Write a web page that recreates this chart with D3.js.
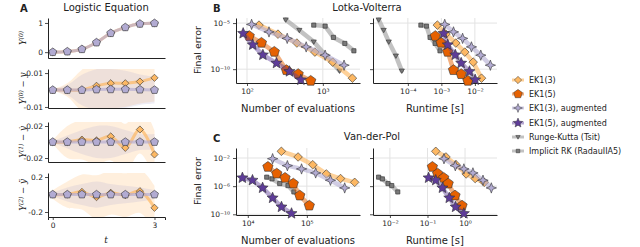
<!DOCTYPE html>
<html>
<head>
<meta charset="utf-8">
<script src="https://cdn.jsdelivr.net/npm/d3@7"></script>
<style>
  body { margin: 0; background: #fff; }
  svg { display: block; font-family: "DejaVu Sans", sans-serif; }
</style>
</head>
<body>
<svg id="chart" width="640" height="247"></svg>
<script>
// ---- Panel A: logistic equation, 8 grid points
const tGrid = [0, 0.43, 0.86, 1.29, 1.71, 2.14, 2.57, 3.0];
const logisticMean = [0.0, 0.02, 0.1, 0.33, 0.65, 0.85, 0.97, 0.99];
const errY0Plain = [0, 0, 0, 0.0025, 0.004, 0.004, 0.005, 0.0072];
const errY0Aug = [0, 0, 0, 0.0003, 0.0004, 0.0004, 0.0002, 0];
const errY1Plain = [0, 0, 0.003, 0.002, 0.007, -0.0073, 0.0156, -0.0156];
const errY1Aug = [0, 0, 0, 0, 0, 0, 0, 0];
const errY2Plain = [0, 0, 0.03, -0.03, 0.02, -0.008, 0.038, -0.152];
const errY2Aug = [0, 0, 0, 0, 0, 0, 0, 0];
const stdY0Plain = [0.0005, 0.004, 0.012, 0.015, 0.015, 0.014, 0.013, 0.014];
const stdY0Aug = [0.0005, 0.003, 0.009, 0.012, 0.012, 0.011, 0.009, 0.008];
const stdY1Plain = [0.002, 0.02, 0.025, 0.03, 0.03, 0.03, 0.03, 0.03];
const stdY1Aug = [0.001, 0.008, 0.015, 0.02, 0.02, 0.015, 0.01, 0.01];
const stdY2Plain = [0.05, 0.15, 0.2, 0.25, 0.25, 0.25, 0.25, 0.25];
const stdY2Aug = [0.02, 0.08, 0.12, 0.15, 0.12, 0.1, 0.08, 0.05];

// ---- Panel B: Lotka-Volterra work-precision
const lvEk13Evals = [144, 256, 455, 785, 1349, 2455];
const lvEk13Time = [7.6e-4, 1.35e-3, 2.7e-3, 5.0e-3, 8.9e-3, 1.58e-2];
const lvEk13Err = [6.0e-6, 6.3e-7, 6.8e-8, 7.1e-9, 5.8e-10, 1.05e-11];
const lvEk15Evals = [107, 155, 229, 331, 473, 692];
const lvEk15Time = [6.6e-4, 9.8e-4, 1.55e-3, 2.3e-3, 3.9e-3, 6.2e-3];
const lvEk15Err = [3.9e-7, 7.2e-8, 7.6e-9, 7.8e-11, 2.9e-11, 5.4e-12];
const lvEk13aEvals = [115, 195, 339, 603, 1072, 1905];
const lvEk13aTime = [1.26e-3, 2.3e-3, 4.3e-3, 7.9e-3, 1.5e-2, 2.9e-2];
const lvEk13aErr = [7.2e-6, 1.1e-6, 2.2e-7, 2.6e-8, 3.3e-9, 2.7e-10];
const lvEk15aEvals = [89, 119, 162, 245, 363, 513];
const lvEk15aTime = [1.17e-3, 1.55e-3, 2.6e-3, 3.9e-3, 6.9e-3, 1.02e-2];
const lvEk15aErr = [7.6e-7, 4.4e-8, 3.5e-9, 4.5e-10, 5.6e-11, 6.9e-12];
const lvRkEvals = [324, 490, 759, 1096, 1660];
const lvRkTime = [1.35e-5, 1.9e-5, 2.7e-5, 4.4e-5, 6.6e-5];
const lvRkErr = [2.3e-5, 1.7e-6, 9.3e-8, 2.8e-9, 6.6e-11];
const lvIrkEvals = [759, 1072, 1380, 1950, 2570];
const lvIrkTime = [2.45e-4, 3.6e-4, 4.6e-4, 6.5e-4, 9.1e-4];
const lvIrkErr = [6.0e-6, 4.7e-6, 2.8e-7, 6.2e-8, 9.8e-9];

// ---- Panel C: Van-der-Pol work-precision
const vdpEk13Evals = [37000, 71000, 126000, 214000, 372000, 646000];
const vdpEk13Time = [0.166, 0.31, 0.575, 1.07, 1.86, 3.24];
const vdpEk13Err = [8.9e-2, 1.4e-2, 1.1e-3, 5.4e-5, 1.2e-5, 3.5e-6];
const vdpEk15Evals = [21900, 30900, 42700, 58900, 75900, 110000];
const vdpEk15Time = [0.135, 0.186, 0.27, 0.355, 0.54, 0.83];
const vdpEk15Err = [5.4e-4, 6.0e-5, 1.5e-5, 2.3e-6, 4.6e-8, 1.7e-9];
const vdpEk13aEvals = [26300, 46800, 81300, 141000, 251000, 437000];
const vdpEk13aTime = [0.275, 0.55, 0.93, 1.62, 3.0, 5.0];
const vdpEk13aErr = [7.9e-3, 8.1e-4, 2.8e-4, 7.6e-5, 6.9e-6, 5.6e-7];
const vdpEk15aEvals = [8100, 12000, 17800, 26300, 37200, 55000];
const vdpEk15aTime = [0.107, 0.166, 0.25, 0.38, 0.56, 0.93];
const vdpEk15aErr = [1.5e-5, 6.9e-6, 5.6e-7, 2.1e-8, 1.1e-9, 1.3e-10];
const vdpIrkEvals = [20900, 25700, 34700, 47900, 60300];
const vdpIrkTime = [0.005, 0.0063, 0.0089, 0.0112, 0.0162];
const vdpIrkErr = [1.9e-5, 1.07e-5, 2.3e-6, 1.2e-6, 1.5e-7];

const legendNames = ["EK1(3)", "EK1(5)", "EK1(3), augmented", "EK1(5), augmented",
  "Runge-Kutta (Tsit)", "Implicit RK (RadauIIA5)"];

// ---- marker shapes
const diamond = s => `M0,${-s}L${s},0L0,${s}L${-s},0Z`;
const square = s => `M${-s},${-s}H${s}V${s}H${-s}Z`;
const triDown = s => `M${-s},${-s * 0.7}L${s},${-s * 0.7}L0,${s}Z`;
function starPath(n, r, ratio, rot) {
  const pts = [];
  for (let k = 0; k < 2 * n; k++) {
    const a = rot + k * Math.PI / n, rr = k % 2 ? r * ratio : r;
    pts.push([rr * Math.cos(a), rr * Math.sin(a)]);
  }
  return "M" + pts.map(p => p.map(v => v.toFixed(2)).join(",")).join("L") + "Z";
}
function pentagon(r) {
  const pts = d3.range(5).map(k => {
    const a = -Math.PI / 2 + k * 2 * Math.PI / 5;
    return [r * Math.cos(a), r * Math.sin(a)];
  });
  return "M" + pts.map(p => p.map(v => v.toFixed(2)).join(",")).join("L") + "Z";
}

const styles = {
  ek13: { fill: "#fdb863", line: "#fdb863", lo: 0.65, shape: diamond(4.3) },
  ek15: { fill: "#e66101", line: "#e66101", lo: 0.5, shape: pentagon(5.4) },
  ek13a: { fill: "#b2abd2", line: "#b2abd2", lo: 0.6, shape: starPath(4, 5.2, 0.38, -Math.PI / 2) },
  ek15a: { fill: "#5e3c99", line: "#5e3c99", lo: 0.45, shape: starPath(5, 5.8, 0.45, -Math.PI / 2) },
  rk: { fill: "#7a7a7a", line: "#a8a8a8", lo: 0.7, shape: triDown(2.6) },
  irk: { fill: "#7a7a7a", line: "#a8a8a8", lo: 0.7, shape: square(2.1) }
};
const legendKeys = ["ek13", "ek15", "ek13a", "ek15a", "rk", "irk"];

const svg = d3.select("#chart");
const ink = "#222";
const sup = { "-": "\u207b", "0": "\u2070", "1": "\u00b9", "2": "\u00b2", "3": "\u00b3", "4": "\u2074",
  "5": "\u2075", "6": "\u2076", "7": "\u2077", "8": "\u2078", "9": "\u2079" };
const fmtPow = v => "10" + String(Math.round(Math.log10(v))).split("").map(c => sup[c]).join("");

function styleAxis(sel, fs) {
  sel.selectAll(".domain").attr("stroke", ink).attr("stroke-width", 1);
  sel.selectAll(".tick line").attr("stroke", ink).attr("stroke-width", 0.8);
  sel.selectAll(".tick text").attr("fill", ink).attr("font-size", fs)
    .attr("font-family", "DejaVu Sans, sans-serif");
}

// log-log axes with grid
function logPanel(x0, x1, y0, y1, xDom, yDom, xTicks, yTicks, yLabels) {
  const x = d3.scaleLog().domain(xDom).range([x0, x1]);
  const y = d3.scaleLog().domain(yDom).range([y1, y0]);
  const g = svg.append("g");
  g.append("g").selectAll("line").data(xTicks).join("line")
    .attr("x1", d => x(d)).attr("x2", d => x(d)).attr("y1", y0).attr("y2", y1)
    .attr("stroke", "#e3e3e3").attr("stroke-width", 1);
  g.append("g").selectAll("line").data(yTicks).join("line")
    .attr("y1", d => y(d)).attr("y2", d => y(d)).attr("x1", x0).attr("x2", x1)
    .attr("stroke", "#e3e3e3").attr("stroke-width", 1);
  g.append("g").attr("transform", `translate(0,${y1})`)
    .call(d3.axisBottom(x).tickValues(xTicks).tickFormat(fmtPow).tickSize(3).tickSizeOuter(0).tickPadding(3))
    .call(s => styleAxis(s, "7.5px"));
  g.append("g").attr("transform", `translate(${x0},0)`)
    .call(d3.axisLeft(y).tickValues(yTicks).tickFormat(yLabels ? fmtPow : "").tickSize(3).tickSizeOuter(0).tickPadding(3))
    .call(s => styleAxis(s, "7.5px"));
  return { g, x, y };
}

function drawSeries(p, xs, ys, st) {
  const pts = xs.map((v, i) => [p.x(v), p.y(ys[i])]);
  p.g.append("path").attr("d", d3.line()(pts)).attr("fill", "none")
    .attr("stroke", st.line).attr("stroke-opacity", st.lo).attr("stroke-width", 4.5)
    .attr("stroke-linejoin", "round").attr("stroke-linecap", "round");
  p.g.append("g").selectAll("path").data(pts).join("path")
    .attr("transform", d => `translate(${d[0]},${d[1]})`)
    .attr("d", st.shape).attr("fill", st.fill).attr("stroke", "#333").attr("stroke-width", 0.6);
}

function label(x, y, txt, opts = {}) {
  const t = svg.append("text").attr("x", x).attr("y", y).text(txt)
    .attr("font-size", opts.size || "10px").attr("fill", ink)
    .attr("text-anchor", opts.anchor || "middle");
  if (opts.bold) t.attr("font-weight", "bold");
  if (opts.rotate) t.attr("transform", `rotate(-90,${x},${y})`);
  return t;
}

// ---- Panel B
const lvEvals = logPanel(236, 360, 18, 83, [Math.pow(10, 1.855), Math.pow(10, 3.49)],
  [Math.pow(10, -11.5), Math.pow(10, -4.45)], [1e2, 1e3], [1e-5, 1e-10], true);
const lvTime = logPanel(373, 497, 18, 83, [Math.pow(10, -5.04), Math.pow(10, -1.34)],
  [Math.pow(10, -11.5), Math.pow(10, -4.45)], [1e-4, 1e-3, 1e-2], [1e-5, 1e-10], false);
drawSeries(lvEvals, lvRkEvals, lvRkErr, styles.rk);
drawSeries(lvEvals, lvIrkEvals, lvIrkErr, styles.irk);
drawSeries(lvEvals, lvEk13Evals, lvEk13Err, styles.ek13);
drawSeries(lvEvals, lvEk15Evals, lvEk15Err, styles.ek15);
drawSeries(lvEvals, lvEk13aEvals, lvEk13aErr, styles.ek13a);
drawSeries(lvEvals, lvEk15aEvals, lvEk15aErr, styles.ek15a);
drawSeries(lvTime, lvRkTime, lvRkErr, styles.rk);
drawSeries(lvTime, lvIrkTime, lvIrkErr, styles.irk);
drawSeries(lvTime, lvEk13Time, lvEk13Err, styles.ek13);
drawSeries(lvTime, lvEk15Time, lvEk15Err, styles.ek15);
drawSeries(lvTime, lvEk13aTime, lvEk13aErr, styles.ek13a);
drawSeries(lvTime, lvEk15aTime, lvEk15aErr, styles.ek15a);

// ---- Panel C
const vdpEvals = logPanel(236, 360, 148, 215, [Math.pow(10, 3.8), Math.pow(10, 5.9)],
  [Math.pow(10, -10.1), Math.pow(10, -0.58)], [1e4, 1e5], [1e-2, 1e-6, 1e-10], true);
const vdpTime = logPanel(373, 497, 148, 215, [Math.pow(10, -2.45), Math.pow(10, 0.85)],
  [Math.pow(10, -10.1), Math.pow(10, -0.58)], [1e-2, 1e-1, 1e0], [1e-2, 1e-6, 1e-10], false);
drawSeries(vdpEvals, vdpIrkEvals, vdpIrkErr, styles.irk);
drawSeries(vdpEvals, vdpEk13Evals, vdpEk13Err, styles.ek13);
drawSeries(vdpEvals, vdpEk15Evals, vdpEk15Err, styles.ek15);
drawSeries(vdpEvals, vdpEk13aEvals, vdpEk13aErr, styles.ek13a);
drawSeries(vdpEvals, vdpEk15aEvals, vdpEk15aErr, styles.ek15a);
drawSeries(vdpTime, vdpIrkTime, vdpIrkErr, styles.irk);
drawSeries(vdpTime, vdpEk13Time, vdpEk13Err, styles.ek13);
drawSeries(vdpTime, vdpEk15Time, vdpEk15Err, styles.ek15);
drawSeries(vdpTime, vdpEk13aTime, vdpEk13aErr, styles.ek13a);
drawSeries(vdpTime, vdpEk15aTime, vdpEk15aErr, styles.ek15a);

label(213, 12, "B", { bold: true, anchor: "start" });
label(213, 142, "C", { bold: true, anchor: "start" });
label(367, 11, "Lotka-Volterra");
label(372, 140, "Van-der-Pol");
label(298, 112, "Number of evaluations");
label(435, 112, "Runtime [s]");
label(298, 244, "Number of evaluations");
label(435, 244, "Runtime [s]");
label(201, 50, "Final error", { rotate: true, size: "9.5px" });
label(201, 181, "Final error", { rotate: true, size: "9.5px" });

// ---- Legend
const legY = [80, 94, 108, 123, 137, 151];
legendKeys.forEach((k, i) => {
  const st = styles[k];
  svg.append("line").attr("x1", 512).attr("x2", 524).attr("y1", legY[i]).attr("y2", legY[i])
    .attr("stroke", st.line).attr("stroke-opacity", st.lo).attr("stroke-width", 3);
  svg.append("path").attr("transform", `translate(518,${legY[i]}) scale(0.85)`).attr("d", st.shape)
    .attr("fill", st.fill).attr("stroke", "#333").attr("stroke-width", 0.6);
  label(529, legY[i] + 3, legendNames[i], { anchor: "start", size: "8px" });
});

// ---- Panel A
const xA = d3.scaleLinear().domain([-0.14, 3.31]).range([48, 165]);
const orange = "#fdb863", purple = "#b2abd2";
const subplots = [
  { y0: 18, y1: 58, dom: [-0.2, 1.17], ticks: [0, 1], fmt: d3.format("d"),
    plain: logisticMean, aug: logisticMean, sp: null, sa: null, sub: "(0)", tail: "" },
  { y0: 69, y1: 108, dom: [-0.0106, 0.0124], ticks: [-0.01, 0.01], fmt: d => d.toFixed(2),
    plain: errY0Plain, aug: errY0Aug, sp: stdY0Plain, sa: stdY0Aug, sub: "(0)", tail: " \u2212 y" },
  { y0: 122, y1: 162, dom: [-0.025, 0.025], ticks: [-0.02, 0.02], fmt: d => d.toFixed(2),
    plain: errY1Plain, aug: errY1Aug, sp: stdY1Plain, sa: stdY1Aug, sub: "(1)", tail: " \u2212 \u1e8f" },
  { y0: 173, y1: 217, dom: [-0.257, 0.246], ticks: [-0.2, 0.2], fmt: d => d.toFixed(1),
    plain: errY2Plain, aug: errY2Aug, sp: stdY2Plain, sa: stdY2Aug, sub: "(2)", tail: " \u2212 \u00ff" }
];

subplots.forEach((s, i) => {
  const y = d3.scaleLinear().domain(s.dom).range([s.y1, s.y0]);
  const g = svg.append("g");
  const clipId = "clipA" + i;
  svg.append("clipPath").attr("id", clipId).append("rect")
    .attr("x", 48).attr("y", s.y0).attr("width", 117).attr("height", s.y1 - s.y0);
  const inner = g.append("g").attr("clip-path", `url(#${clipId})`);
  const idx = d3.range(tGrid.length);
  if (s.sp) {
    const area = (m, sd) => d3.area().curve(d3.curveCatmullRom)
      .x(j => xA(tGrid[j])).y0(j => y(m[j] - sd[j])).y1(j => y(m[j] + sd[j]));
    inner.append("path").attr("d", area(s.plain, s.sp)(idx)).attr("fill", orange).attr("fill-opacity", 0.22);
    inner.append("path").attr("d", area(s.aug, s.sa)(idx)).attr("fill", purple).attr("fill-opacity", 0.22);
  }
  const line = m => d3.line().curve(d3.curveCatmullRom).x(j => xA(tGrid[j])).y(j => y(m[j]));
  inner.append("path").attr("d", line(s.plain)(idx)).attr("fill", "none")
    .attr("stroke", orange).attr("stroke-opacity", 0.7).attr("stroke-width", 3);
  inner.append("path").attr("d", line(s.aug)(idx)).attr("fill", "none")
    .attr("stroke", purple).attr("stroke-opacity", 0.65).attr("stroke-width", 3);
  g.append("g").selectAll("path").data(idx).join("path")
    .attr("transform", j => `translate(${xA(tGrid[j])},${y(s.plain[j])})`)
    .attr("d", diamond(3.6)).attr("fill", orange).attr("stroke", "#333").attr("stroke-width", 0.6);
  g.append("g").selectAll("path").data(idx).join("path")
    .attr("transform", j => `translate(${xA(tGrid[j])},${y(s.aug[j])})`)
    .attr("d", pentagon(4.2)).attr("fill", purple).attr("stroke", "#333").attr("stroke-width", 0.6);

  g.append("g").attr("transform", "translate(48,0)")
    .call(d3.axisLeft(y).tickValues(s.ticks).tickFormat(s.fmt).tickSize(3).tickSizeOuter(0).tickPadding(2))
    .call(a => styleAxis(a, "7.5px"));
  const bottom = d3.axisBottom(xA).tickSizeOuter(0);
  if (i === 3) bottom.tickValues([0, 3]).tickFormat(d3.format("d")).tickSize(3).tickPadding(3);
  else bottom.tickValues([]);
  g.append("g").attr("transform", `translate(0,${s.y1})`).call(bottom).call(a => styleAxis(a, "7.5px"));

  // y label: Y^(k) - y
  const cy = (s.y0 + s.y1) / 2, lx = 26;
  const t = svg.append("text").attr("x", lx).attr("y", cy)
    .attr("transform", `rotate(-90,${lx},${cy})`).attr("text-anchor", "middle")
    .attr("font-family", "DejaVu Serif, serif").attr("font-style", "italic")
    .attr("font-size", "8.5px").attr("fill", ink);
  t.append("tspan").text("Y");
  t.append("tspan").attr("dy", -3).attr("font-size", "6px").text(s.sub);
  t.append("tspan").attr("dy", 3).text(s.tail);
});

label(20, 12, "A", { bold: true, anchor: "start" });
label(106, 11, "Logistic Equation");
svg.append("text").attr("x", 106).attr("y", 243).attr("text-anchor", "middle")
  .attr("font-family", "DejaVu Serif, serif").attr("font-style", "italic")
  .attr("font-size", "9px").attr("fill", ink).text("t");
</script>
</body>
</html>
